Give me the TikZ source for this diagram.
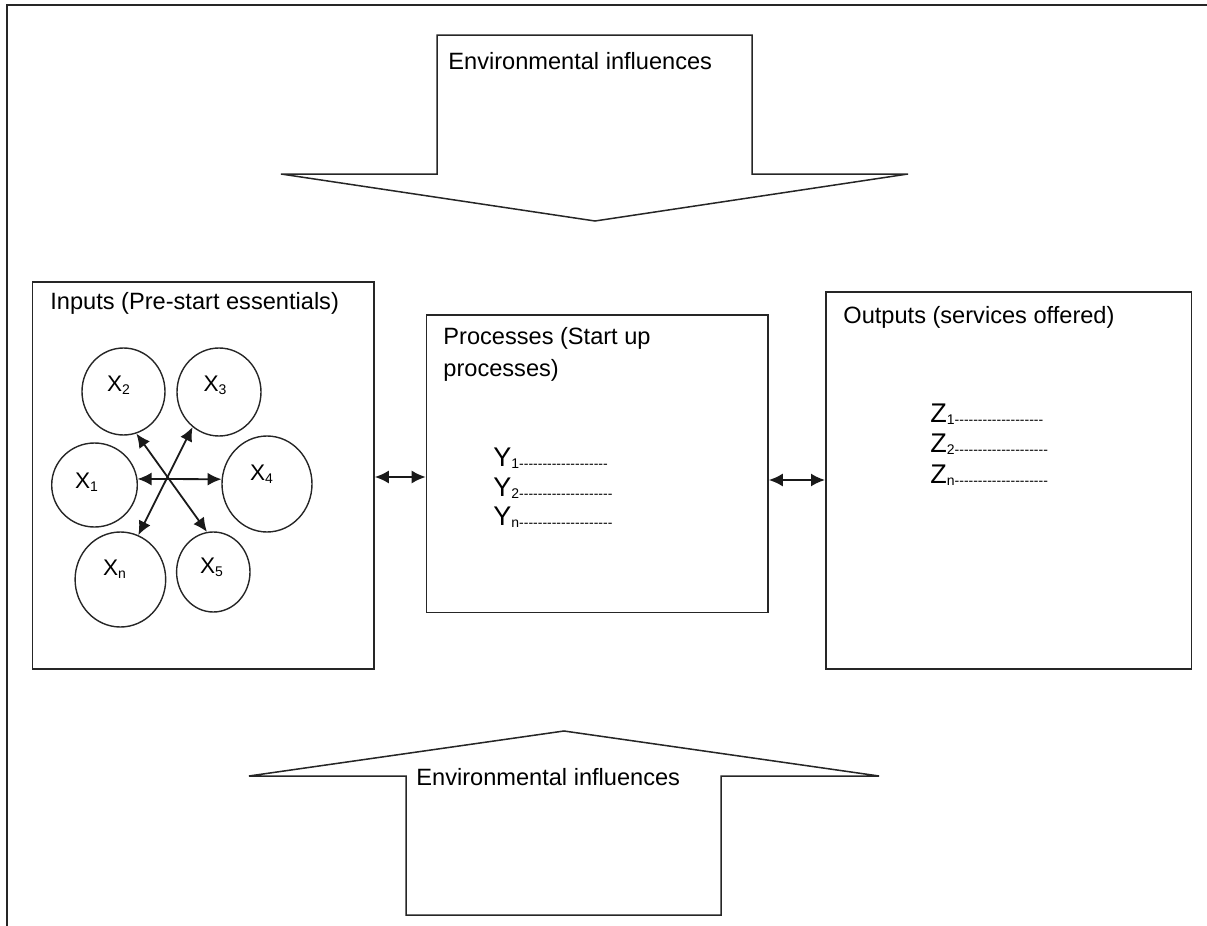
\documentclass[tikz,border=0pt]{standalone}
\usepackage{fontspec}
\setmainfont{Liberation Sans}
\usetikzlibrary{arrows.meta,shapes.geometric}

% a run of small hyphens, kept apart so they never merge into dashes
\newcount\dashcnt
\newcommand\dashrun[1]{\dashcnt=#1\relax\loop\ifnum\dashcnt>0 -\kern0pt\advance\dashcnt by -1 \repeat}
% letter, subscript, number of trailing hyphens, drop of the subscript
\newcommand\sublbl[4]{#1\raisebox{-#4}{\fontsize{7}{8}\selectfont #2\dashrun{#3}}}

\tikzset{
  ln/.style={draw=black!85, line width=0.85pt},
  panel/.style={ln, rectangle, inner sep=0pt, anchor=north west},
  blob/.style={draw=black!85, line width=0.7pt, ellipse, inner sep=0pt},
  txt/.style={inner sep=0pt, anchor=base west, font=\fontsize{11.8}{16}\selectfont},
  xl/.style={inner sep=0pt, anchor=base, font=\fontsize{11.3}{13}\selectfont},
  yz/.style={inner sep=0pt, anchor=base west, font=\fontsize{13.5}{15}\selectfont},
  dbl/.style={draw=black!90, line width=0.9pt,
    {Latex[length=7pt,width=6.5pt]}-{Latex[length=7pt,width=6.5pt]}},
}

\begin{document}
\begin{tikzpicture}[x=0.5pt, y=-0.5pt]
\useasboundingbox (0,0) rectangle (1207,926);

% page frame (top and left edges)
\draw[ln] (1207,5) -- (7,5) -- (7,926);

% environmental influences from above
\draw[ln, line width=0.75pt] (437,35) -- (752,35) -- (752,174) -- (908,174)
  -- (595,221) -- (281,174) -- (437,174) -- cycle;
\node[txt] (envtop) at (448,69) {Environmental influences};

% environmental influences from below
\draw[ln, line width=0.75pt] (406,915) -- (721,915) -- (721,776) -- (879,776)
  -- (564,731) -- (249,776) -- (406,776) -- cycle;
\node[txt] (envbot) at (416,785) {Environmental influences};

% the three panels
\node[panel, minimum width=170.7pt, minimum height=193.5pt] (inputs) at (31.7,281) {};
\node[panel, minimum width=170.7pt, minimum height=148.8pt] (proc) at (425.7,314) {};
\node[panel, minimum width=182.8pt, minimum height=188.5pt] (outputs) at (825,291) {};

\node[txt] (intitle) at (50,309) {Inputs (Pre-start essentials)};
\node[txt, anchor=north west, align=left] (proctitle) at (443,327) {Processes (Start up\\processes)};
\node[txt] (outtitle) at (843,323) {Outputs (services offered)};

% input elements
\node[blob, minimum width=41.5pt, minimum height=43.5pt] (X2) at (123.5,391.5) {};
\node[blob, minimum width=42pt,   minimum height=44pt]   (X3) at (219,392) {};
\node[blob, minimum width=42.8pt, minimum height=42pt]   (X1) at (94.5,485) {};
\node[blob, minimum width=45pt,   minimum height=48pt]   (X4) at (267,484) {};
\node[blob, minimum width=45.3pt, minimum height=47.5pt] (Xn) at (120.4,579.5) {};
\node[blob, minimum width=36.7pt, minimum height=40pt]   (X5) at (213.3,572) {};

\node[xl] (lX2) at (118.5,391.5) {\sublbl{X}{2}{0}{1.5pt}};
\node[xl] (lX3) at (215,391) {\sublbl{X}{3}{0}{1.5pt}};
\node[xl] (lX1) at (86.5,488) {\sublbl{X}{1}{0}{1.5pt}};
\node[xl] (lX4) at (261.5,480) {\sublbl{X}{4}{0}{1.5pt}};
\node[xl] (lXn) at (114.5,575) {\sublbl{X}{n}{0}{1.5pt}};
\node[xl] (lX5) at (211.5,573) {\sublbl{X}{5}{0}{1.5pt}};

\draw[dbl] (X1.8) -- (X4.174);
\draw[dbl] (X2.-73) -- (X5.99);
\draw[dbl] (X3.233) -- (Xn.68);

% links between panels
\coordinate (ra) at (0,477);
\coordinate (rb) at (0,480);
\draw[dbl] (inputs.east |- ra) -- (proc.west |- ra);
\draw[dbl] (proc.east |- rb) -- (outputs.west |- rb);

% process and output lists
\node[yz] (y1) at (493,466) {\sublbl{Y}{1}{19}{1pt}};
\node[yz] (y2) at (493,496) {\sublbl{Y}{2}{20}{1pt}};
\node[yz] (yn) at (493,525) {\sublbl{Y}{n}{20}{1pt}};

\node[yz] (z1) at (930,422) {\sublbl{Z}{1}{19}{1pt}};
\node[yz] (z2) at (930,452) {\sublbl{Z}{2}{20}{1pt}};
\node[yz] (zn) at (930,483) {\sublbl{Z}{n}{20}{1pt}};
\end{tikzpicture}
\end{document}
